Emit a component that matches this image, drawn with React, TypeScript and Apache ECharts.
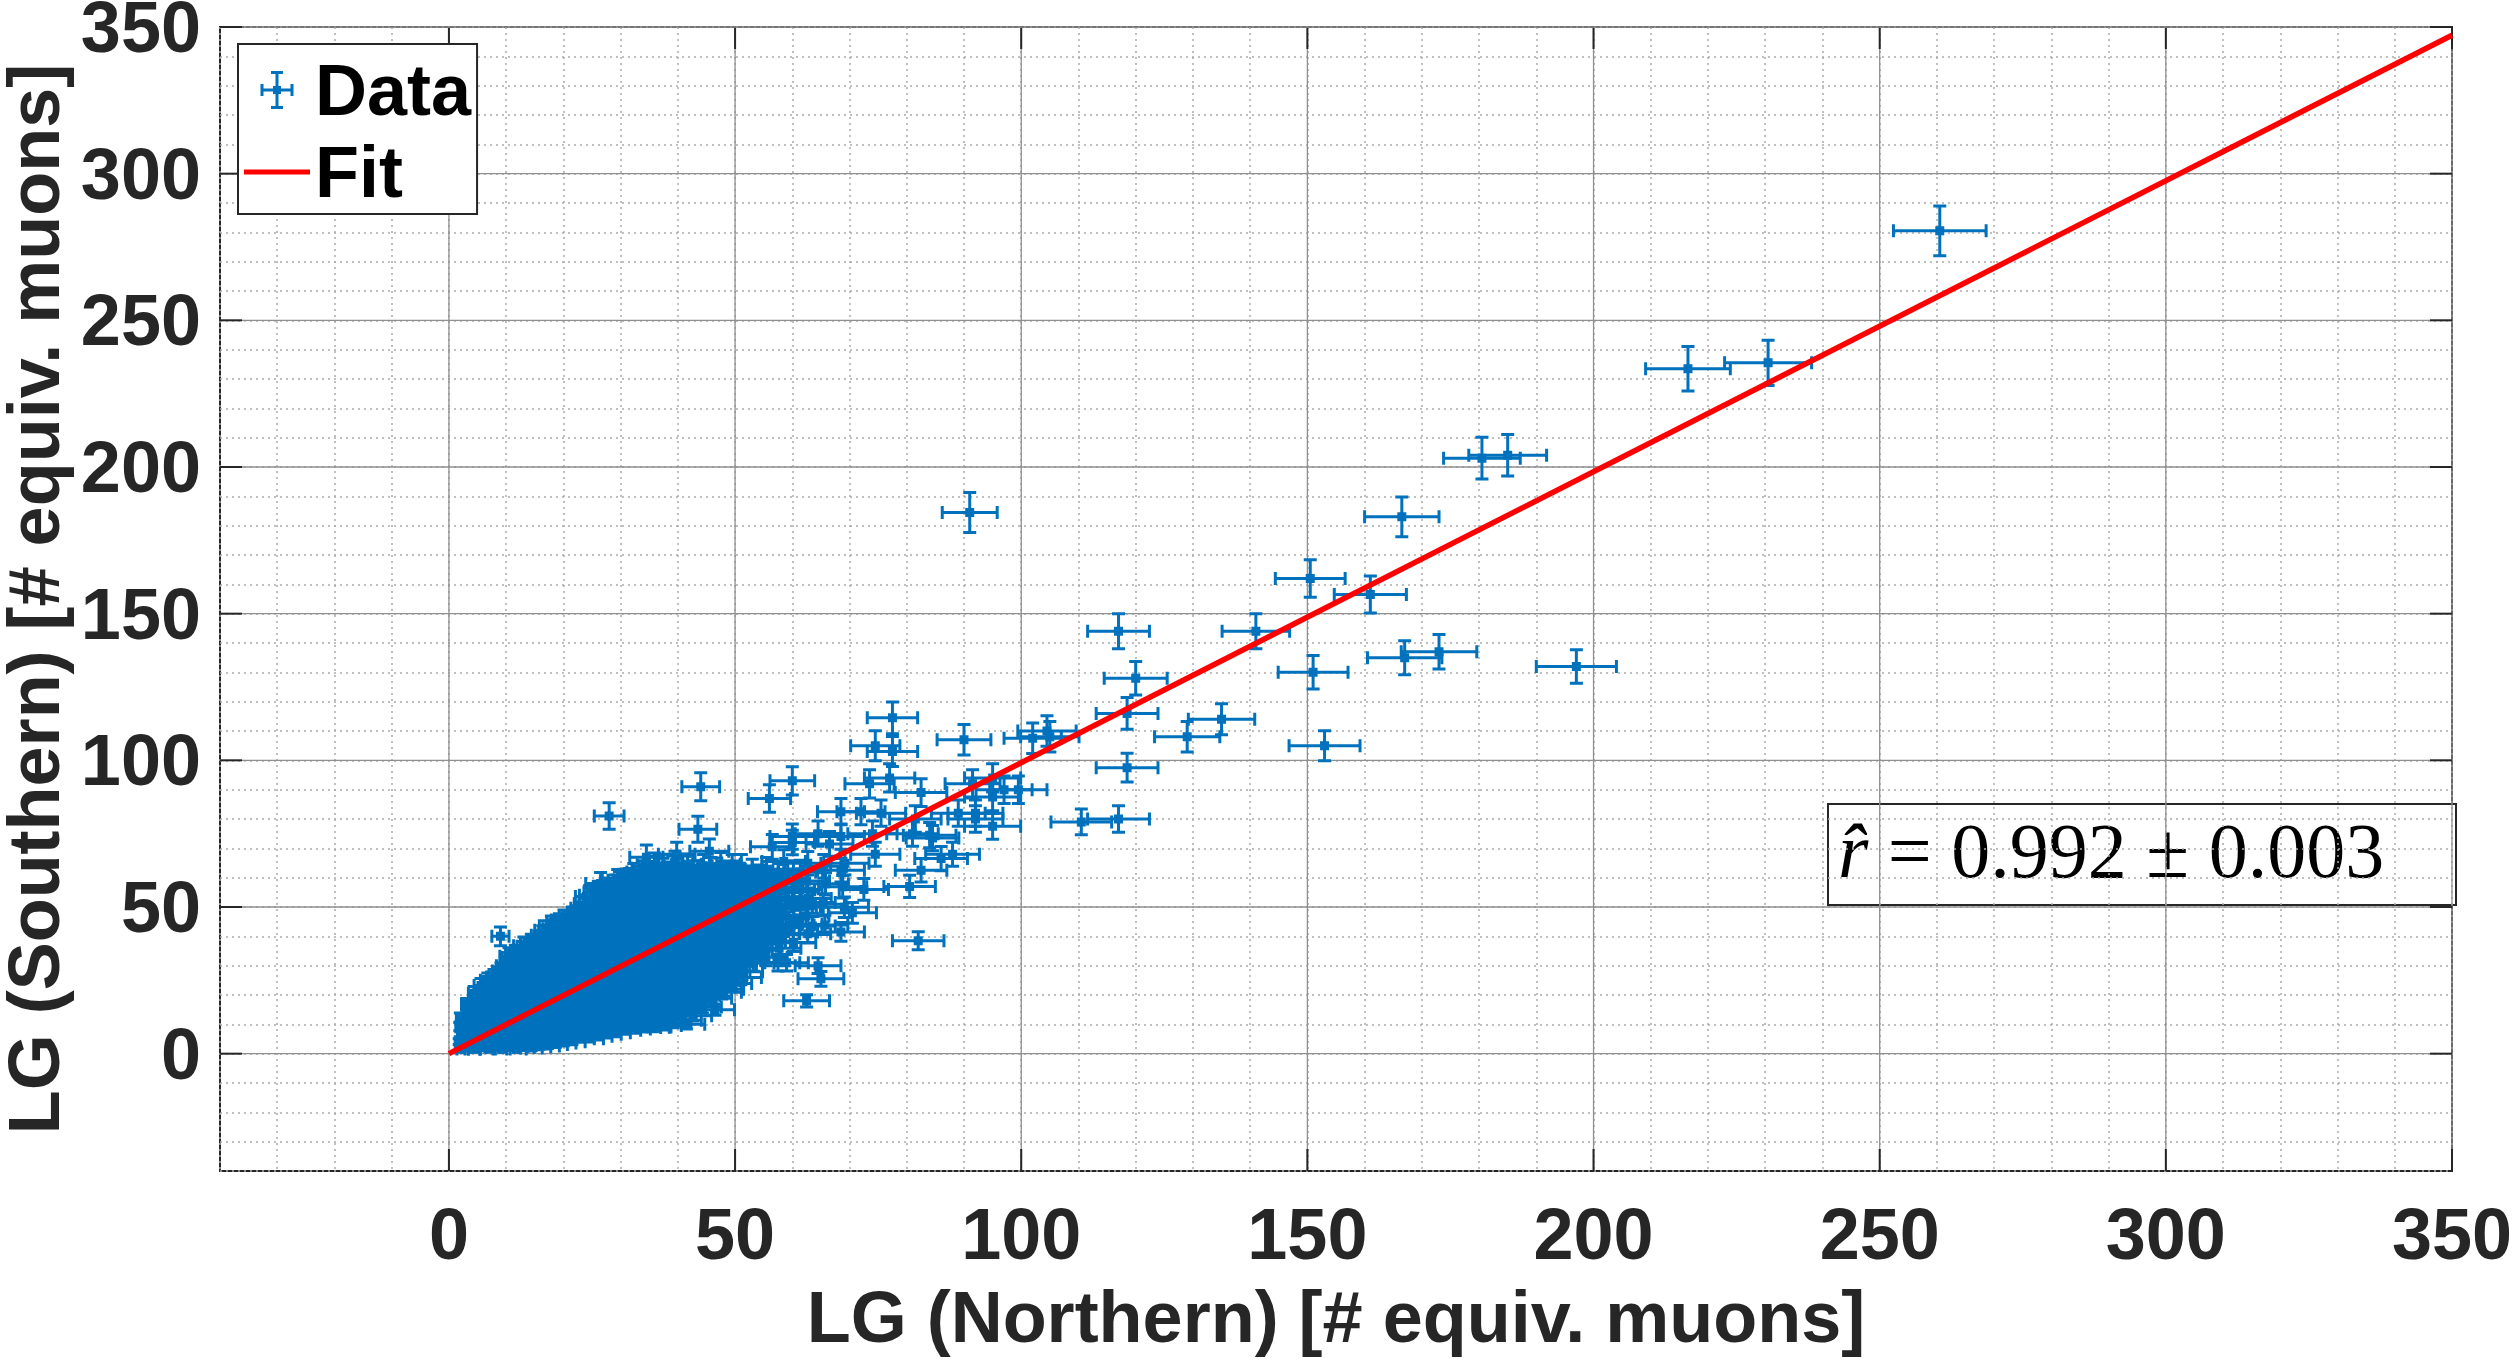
import { useEffect, useRef } from "react";
import * as echarts from "echarts";

// ---------- axes ----------
const X_MIN = -40;
const X_MAX = 350;
const Y_MIN = -40;
const Y_MAX = 350;
const minorStep = 10;
const xMajorTicks = [0, 50, 100, 150, 200, 250, 300, 350];
const yMajorTicks = [0, 50, 100, 150, 200, 250, 300, 350];
const xAxisTitle = "LG (Northern) [# equiv. muons]";
const yAxisTitle = "LG (Southern) [# equiv. muons]";
const legendNames = ["Data", "Fit"];

// ---------- fit ----------
const fitRatio = 0.992;
const fitRatioErr = 0.003;
const fitLinePoints = [
  [0, 0],
  [350, 347.2],
];

// ---------- data: [northern, southern, northernErr, southernErr] ----------
const outlierPoints = [
  [260.5, 280.5, 8.1, 8.5], [216.5, 233.5, 7.4, 7.6], [230.5, 235.5, 7.6, 7.7],
  [180.5, 203, 6.7, 7.1], [185, 204, 6.8, 7.1], [166.5, 183, 6.5, 6.8],
  [91, 184.5, 4.8, 6.8], [150.5, 162, 6.1, 6.4], [161, 156.5, 6.3, 6.3],
  [141, 144, 5.9, 6.0], [117, 144, 5.4, 6.0], [151, 130, 6.1, 5.7],
  [167, 135, 6.5, 5.8], [173, 137, 6.6, 5.9], [197, 132, 7.0, 5.7],
  [120, 128, 5.5, 5.7], [153, 105, 6.2, 5.1], [135, 114, 5.8, 5.3],
  [129, 108, 5.7, 5.2], [118.5, 116, 5.4, 5.4], [118.5, 97.5, 5.4, 4.9],
  [117, 80, 5.4, 4.5], [110.5, 79, 5.3, 4.4], [102, 107.5, 5.0, 5.2],
  [104.5, 110, 5.1, 5.2], [105, 108, 5.1, 5.2], [90, 107, 4.7, 5.2],
  [77.5, 114.5, 4.4, 5.4], [74.5, 105, 4.3, 5.1], [77.5, 103, 4.4, 5.1],
  [60, 93, 3.9, 4.8], [56, 87, 3.7, 4.7], [73.5, 92, 4.3, 4.8],
  [77, 94, 4.4, 4.8], [82.5, 89, 4.5, 4.7], [91.5, 92, 4.8, 4.8],
  [97, 90, 4.9, 4.7], [99.5, 90, 5.0, 4.7], [95, 87.5, 4.9, 4.7],
  [89, 82, 4.7, 4.5], [92, 82, 4.8, 4.5], [95, 77.5, 4.9, 4.4],
  [92, 80, 4.8, 4.5], [68.5, 82.5, 4.1, 4.5], [72, 82.5, 4.2, 4.5],
  [75.5, 82, 4.3, 4.5], [60, 74, 3.9, 4.3], [56.5, 70.5, 3.8, 4.2],
  [68.5, 74, 4.1, 4.3], [74, 75, 4.3, 4.3], [81, 75, 4.5, 4.3],
  [84, 74.5, 4.6, 4.3], [86, 66.5, 4.6, 4.1], [88, 68, 4.7, 4.1],
  [82.5, 62.5, 4.5, 4.0], [80.5, 57, 4.5, 3.8], [74.5, 68, 4.3, 4.1],
  [58.5, 65.5, 3.8, 4.0], [68.5, 62.5, 4.1, 4.0], [72.5, 56, 4.3, 3.7],
  [82, 38.5, 4.5, 3.1], [64.5, 30, 4.0, 2.7], [65, 25.5, 4.0, 2.5],
  [62.5, 18, 4.0, 2.1], [59, 31, 3.8, 2.8], [68.5, 41.5, 4.1, 3.2],
  [51, 26, 3.6, 2.5], [63.5, 51.5, 4.0, 3.6], [70.5, 48, 4.2, 3.5],
  [66.5, 71.5, 4.1, 4.2], [28, 81, 2.6, 4.5], [44, 91, 3.3, 4.8],
  [43.5, 76.5, 3.3, 4.4], [9, 40, 1.5, 3.2], [41.5, 10, 3.2, 1.6],
  [35.5, 9, 3.0, 1.5], [84.5, 73.5, 4.6, 4.3], [95, 94, 4.9, 4.8],
  [81.5, 80, 4.5, 4.5], [57.5, 41, 3.8, 3.2], [63.5, 43.5, 4.0, 3.3],
  [57.5, 31, 3.8, 2.8], [48, 22, 3.5, 2.3], [46.5, 15, 3.4, 1.9],
  [64.5, 75, 4.0, 4.3], [34.5, 67, 2.9, 4.1], [39.8, 68, 3.2, 4.1],
  [45.5, 69, 3.4, 4.2], [26.5, 58, 2.6, 3.8], [29.5, 59, 2.7, 3.8],
  [60, 72, 3.9, 4.2], [39.5, 65, 3.1, 4.0],
];

const clusterLow = [
  [2.1, 1.6, 0.7, 0.7], [1.8, 4.1, 0.7, 1.0], [2.2, 6.6, 0.7, 1.4], [1.9, 9.2, 0.7, 1.4], [2.0, 12.2, 0.7, 1.7],
  [3.2, 2.1, 0.9, 0.7], [2.9, 5.0, 0.9, 1.0], [3.3, 8.1, 0.9, 1.4], [3.0, 11.2, 0.9, 1.8], [3.4, 14.4, 0.9, 1.8], [3.1, 16.8, 0.9, 2.0],
  [4.4, 1.5, 1.0, 0.7], [4.1, 4.6, 1.0, 1.0], [4.5, 7.2, 1.0, 1.4], [4.2, 10.1, 1.0, 1.6], [4.6, 13.2, 1.0, 1.8], [4.3, 16.1, 1.0, 2.0], [4.5, 18.6, 1.0, 2.1], [4.4, 20.6, 1.0, 2.3],
  [5.6, 2.6, 1.2, 0.8], [5.3, 5.4, 1.2, 1.2], [5.7, 8.6, 1.2, 1.5], [5.4, 11.6, 1.2, 1.7], [5.8, 14.3, 1.2, 1.9], [5.5, 17.6, 1.2, 2.1], [5.7, 20.4, 1.2, 2.3], [5.6, 23.2, 1.2, 2.4],
  [6.8, 1.6, 1.3, 0.6], [6.5, 4.2, 1.3, 1.0], [6.9, 7.1, 1.3, 1.3], [6.6, 10.2, 1.3, 1.6], [7.0, 13.1, 1.3, 1.8], [6.7, 16.2, 1.3, 2.0], [6.9, 19.1, 1.3, 2.2], [6.6, 22.2, 1.3, 2.4], [6.8, 25.0, 1.3, 2.5],
  [8.0, 2.1, 1.4, 0.7], [7.7, 5.2, 1.4, 1.1], [8.1, 8.4, 1.4, 1.4], [7.8, 11.6, 1.4, 1.7], [8.2, 14.6, 1.4, 1.9], [7.9, 17.4, 1.4, 2.1], [8.1, 20.6, 1.4, 2.3], [7.8, 23.4, 1.4, 2.4], [8.0, 26.1, 1.4, 2.6],
  [9.2, 1.6, 1.5, 0.6], [8.9, 4.6, 1.5, 1.1], [9.3, 7.6, 1.5, 1.4], [9.0, 10.4, 1.5, 1.6], [9.4, 13.6, 1.5, 1.8], [9.1, 16.4, 1.5, 2.0], [9.3, 19.6, 1.5, 2.2], [9.0, 22.4, 1.5, 2.4], [9.4, 25.6, 1.5, 2.5], [9.1, 28.2, 1.5, 2.7],
  [10.5, 2.1, 1.6, 0.7], [10.2, 5.1, 1.6, 1.1], [10.6, 8.1, 1.6, 1.4], [10.3, 11.1, 1.6, 1.7], [10.7, 14.1, 1.6, 1.9], [10.4, 17.1, 1.6, 2.1], [10.6, 20.1, 1.6, 2.2], [10.3, 23.1, 1.6, 2.4], [10.7, 26.1, 1.6, 2.6], [10.4, 29.1, 1.6, 2.7], [10.6, 31.6, 1.6, 2.8], [10.5, 33.2, 1.6, 2.9],
  [11.8, 1.6, 1.7, 0.6], [11.5, 4.6, 1.7, 1.1], [11.9, 7.6, 1.7, 1.4], [11.6, 10.6, 1.7, 1.6], [12.0, 13.6, 1.7, 1.8], [11.7, 16.6, 1.7, 2.0], [11.9, 19.6, 1.7, 2.2], [11.6, 22.6, 1.7, 2.4], [12.0, 25.6, 1.7, 2.5], [11.7, 28.6, 1.7, 2.7], [11.9, 31.4, 1.7, 2.8], [11.6, 34.1, 1.7, 2.9],
  [13.1, 2.1, 1.8, 0.7], [12.8, 5.4, 1.8, 1.2], [13.2, 8.6, 1.8, 1.5], [12.9, 11.6, 1.8, 1.7], [13.3, 14.6, 1.8, 1.9], [13.0, 17.6, 1.8, 2.1], [13.2, 20.6, 1.8, 2.3], [12.9, 23.6, 1.8, 2.4], [13.3, 26.6, 1.8, 2.6], [13.0, 29.6, 1.8, 2.7], [13.2, 32.6, 1.8, 2.9], [12.9, 35.2, 1.8, 3.0], [13.1, 36.8, 1.8, 3.0],
  [14.4, 1.9, 1.9, 0.7], [14.1, 5.1, 1.9, 1.1], [14.5, 8.1, 1.9, 1.4], [14.2, 11.1, 1.9, 1.7], [14.6, 14.1, 1.9, 1.9], [14.3, 17.1, 1.9, 2.1], [14.5, 20.1, 1.9, 2.2], [14.2, 23.1, 1.9, 2.4], [14.6, 26.1, 1.9, 2.6], [14.3, 29.1, 1.9, 2.7], [14.5, 32.1, 1.9, 2.8], [14.2, 35.1, 1.9, 3.0], [14.4, 37.6, 1.9, 3.1],
  [15.8, 2.4, 2.0, 0.8], [15.5, 5.6, 2.0, 1.2], [15.9, 8.6, 2.0, 1.5], [15.6, 11.6, 2.0, 1.7], [16.0, 14.6, 2.0, 1.9], [15.7, 17.6, 2.0, 2.1], [15.9, 20.6, 2.0, 2.3], [15.6, 23.6, 2.0, 2.4], [16.0, 26.6, 2.0, 2.6], [15.7, 29.6, 2.0, 2.7], [15.9, 32.6, 2.0, 2.9], [15.6, 35.6, 2.0, 3.0], [15.8, 38.6, 2.0, 3.1],
  [17.2, 2.6, 2.1, 0.8], [16.9, 6.1, 2.1, 1.2], [17.3, 9.1, 2.1, 1.5], [17.0, 12.1, 2.1, 1.7], [17.4, 15.1, 2.1, 1.9], [17.1, 18.1, 2.1, 2.1], [17.3, 21.1, 2.1, 2.3], [17.0, 24.1, 2.1, 2.5], [17.4, 27.1, 2.1, 2.6], [17.1, 30.1, 2.1, 2.7], [17.3, 33.1, 2.1, 2.9], [17.0, 36.1, 2.1, 3.0], [17.4, 39.1, 2.1, 3.1], [17.1, 42.1, 2.1, 3.2],
  [18.6, 3.1, 2.1, 0.9], [18.3, 6.6, 2.1, 1.3], [18.7, 9.6, 2.1, 1.5], [18.4, 12.6, 2.1, 1.8], [18.8, 15.6, 2.1, 2.0], [18.5, 18.6, 2.1, 2.2], [18.7, 21.6, 2.1, 2.3], [18.4, 24.6, 2.1, 2.5], [18.8, 27.6, 2.1, 2.6], [18.5, 30.6, 2.1, 2.8], [18.7, 33.6, 2.1, 2.9], [18.4, 36.6, 2.1, 3.0], [18.8, 39.6, 2.1, 3.1], [18.5, 42.6, 2.1, 3.3],
];

const clusterMid = [
  [20.0, 3.6, 2.2, 0.9], [19.7, 7.1, 2.2, 1.3], [20.1, 10.1, 2.2, 1.6], [19.8, 13.1, 2.2, 1.8], [20.2, 16.1, 2.2, 2.0], [19.9, 19.1, 2.2, 2.2], [20.1, 22.1, 2.2, 2.3], [19.8, 25.1, 2.2, 2.5], [20.2, 28.1, 2.2, 2.6], [19.9, 31.1, 2.2, 2.8], [20.1, 34.1, 2.2, 2.9], [19.8, 37.1, 2.2, 3.0], [20.2, 40.1, 2.2, 3.2], [19.9, 43.1, 2.2, 3.3], [20.1, 45.6, 2.2, 3.4],
  [21.5, 4.1, 2.3, 1.0], [21.2, 7.6, 2.3, 1.4], [21.6, 11.1, 2.3, 1.7], [21.3, 14.1, 2.3, 1.9], [21.7, 17.1, 2.3, 2.1], [21.4, 20.1, 2.3, 2.2], [21.6, 23.1, 2.3, 2.4], [21.3, 26.1, 2.3, 2.6], [21.7, 29.1, 2.3, 2.7], [21.4, 32.1, 2.3, 2.8], [21.6, 35.1, 2.3, 3.0], [21.3, 38.1, 2.3, 3.1], [21.7, 41.1, 2.3, 3.2], [21.4, 44.1, 2.3, 3.3], [21.6, 46.6, 2.3, 3.4],
  [23.0, 5.1, 2.4, 1.1], [22.7, 8.6, 2.4, 1.5], [23.1, 12.1, 2.4, 1.7], [22.8, 15.6, 2.4, 2.0], [23.2, 18.6, 2.4, 2.2], [22.9, 21.6, 2.4, 2.3], [23.1, 24.6, 2.4, 2.5], [22.8, 27.6, 2.4, 2.6], [23.2, 30.6, 2.4, 2.8], [22.9, 33.6, 2.4, 2.9], [23.1, 36.6, 2.4, 3.0], [22.8, 39.6, 2.4, 3.1], [23.2, 42.6, 2.4, 3.3], [22.9, 45.6, 2.4, 3.4], [23.1, 48.1, 2.4, 3.5],
  [24.5, 5.1, 2.5, 1.1], [24.2, 9.6, 2.5, 1.5], [24.6, 13.1, 2.5, 1.8], [24.3, 16.6, 2.5, 2.0], [24.7, 20.1, 2.5, 2.2], [24.4, 23.6, 2.5, 2.4], [24.6, 27.1, 2.5, 2.6], [24.3, 30.6, 2.5, 2.8], [24.7, 34.1, 2.5, 2.9], [24.4, 37.6, 2.5, 3.1], [24.6, 41.1, 2.5, 3.2], [24.3, 44.6, 2.5, 3.3], [24.7, 48.1, 2.5, 3.5], [24.4, 51.1, 2.5, 3.6], [24.6, 53.6, 2.5, 3.7],
  [26.0, 5.9, 2.5, 1.2], [25.7, 10.6, 2.5, 1.6], [26.1, 14.1, 2.5, 1.9], [25.8, 17.6, 2.5, 2.1], [26.2, 21.1, 2.5, 2.3], [25.9, 24.6, 2.5, 2.5], [26.1, 28.1, 2.5, 2.6], [25.8, 31.6, 2.5, 2.8], [26.2, 35.1, 2.5, 3.0], [25.9, 38.6, 2.5, 3.1], [26.1, 42.1, 2.5, 3.2], [25.8, 45.6, 2.5, 3.4], [26.2, 49.1, 2.5, 3.5], [25.9, 52.6, 2.5, 3.6], [26.1, 55.1, 2.5, 3.7],
  [27.5, 6.6, 2.6, 1.3], [27.2, 11.1, 2.6, 1.7], [27.6, 14.6, 2.6, 1.9], [27.3, 18.1, 2.6, 2.1], [27.7, 21.6, 2.6, 2.3], [27.4, 25.1, 2.6, 2.5], [27.6, 28.6, 2.6, 2.7], [27.3, 32.1, 2.6, 2.8], [27.7, 35.6, 2.6, 3.0], [27.4, 39.1, 2.6, 3.1], [27.6, 42.6, 2.6, 3.3], [27.3, 46.1, 2.6, 3.4], [27.7, 49.6, 2.6, 3.5], [27.4, 53.1, 2.6, 3.6], [27.6, 56.1, 2.6, 3.7],
  [29.0, 7.1, 2.7, 1.3], [28.7, 11.6, 2.7, 1.7], [29.1, 15.1, 2.7, 1.9], [28.8, 18.6, 2.7, 2.2], [29.2, 22.1, 2.7, 2.4], [28.9, 25.6, 2.7, 2.5], [29.1, 29.1, 2.7, 2.7], [28.8, 32.6, 2.7, 2.9], [29.2, 36.1, 2.7, 3.0], [28.9, 39.6, 2.7, 3.1], [29.1, 43.1, 2.7, 3.3], [28.8, 46.6, 2.7, 3.4], [29.2, 50.1, 2.7, 3.5], [28.9, 53.6, 2.7, 3.7], [29.1, 57.1, 2.7, 3.8],
  [30.7, 8.0, 2.8, 1.4], [30.4, 12.9, 2.8, 1.8], [30.8, 16.9, 2.8, 2.1], [30.5, 20.9, 2.8, 2.3], [30.9, 24.9, 2.8, 2.5], [30.6, 28.9, 2.8, 2.7], [30.8, 32.9, 2.8, 2.9], [30.5, 36.9, 2.8, 3.0], [30.9, 40.9, 2.8, 3.2], [30.6, 44.9, 2.8, 3.4], [30.8, 48.9, 2.8, 3.5], [30.5, 52.9, 2.8, 3.6], [30.9, 56.4, 2.8, 3.8], [30.6, 59.1, 2.8, 3.8],
  [32.4, 8.4, 2.8, 1.4], [32.1, 13.4, 2.8, 1.8], [32.5, 17.4, 2.8, 2.1], [32.2, 21.4, 2.8, 2.3], [32.6, 25.4, 2.8, 2.5], [32.3, 29.4, 2.8, 2.7], [32.5, 33.4, 2.8, 2.9], [32.2, 37.4, 2.8, 3.1], [32.6, 41.4, 2.8, 3.2], [32.3, 45.4, 2.8, 3.4], [32.5, 49.4, 2.8, 3.5], [32.2, 53.4, 2.8, 3.7], [32.6, 57.4, 2.8, 3.8], [32.3, 60.9, 2.8, 3.9],
  [34.1, 8.9, 2.9, 1.5], [33.8, 13.9, 2.9, 1.9], [34.2, 17.9, 2.9, 2.1], [33.9, 21.9, 2.9, 2.3], [34.3, 25.9, 2.9, 2.5], [34.0, 29.9, 2.9, 2.7], [34.2, 33.9, 2.9, 2.9], [33.9, 37.9, 2.9, 3.1], [34.3, 41.9, 2.9, 3.2], [34.0, 45.9, 2.9, 3.4], [34.2, 49.9, 2.9, 3.5], [33.9, 53.9, 2.9, 3.7], [34.3, 57.9, 2.9, 3.8], [34.0, 61.9, 2.9, 3.9],
  [35.8, 9.1, 3.0, 1.5], [35.5, 14.1, 3.0, 1.9], [35.9, 18.1, 3.0, 2.1], [35.6, 22.1, 3.0, 2.4], [36.0, 26.1, 3.0, 2.6], [35.7, 30.1, 3.0, 2.7], [35.9, 34.1, 3.0, 2.9], [35.6, 38.1, 3.0, 3.1], [36.0, 42.1, 3.0, 3.2], [35.7, 46.1, 3.0, 3.4], [35.9, 50.1, 3.0, 3.5], [35.6, 54.1, 3.0, 3.7], [36.0, 58.1, 3.0, 3.8], [35.7, 61.6, 3.0, 3.9], [35.9, 64.4, 3.0, 4.0],
  [37.5, 9.6, 3.1, 1.5], [37.2, 14.6, 3.1, 1.9], [37.6, 18.6, 3.1, 2.2], [37.3, 22.6, 3.1, 2.4], [37.7, 26.6, 3.1, 2.6], [37.4, 30.6, 3.1, 2.8], [37.6, 34.6, 3.1, 2.9], [37.3, 38.6, 3.1, 3.1], [37.7, 42.6, 3.1, 3.3], [37.4, 46.6, 3.1, 3.4], [37.6, 50.6, 3.1, 3.6], [37.3, 54.6, 3.1, 3.7], [37.7, 58.6, 3.1, 3.8], [37.4, 62.6, 3.1, 4.0],
  [39.2, 10.4, 3.1, 1.6], [38.9, 15.4, 3.1, 2.0], [39.3, 19.4, 3.1, 2.2], [39.0, 23.4, 3.1, 2.4], [39.4, 27.4, 3.1, 2.6], [39.1, 31.4, 3.1, 2.8], [39.3, 35.4, 3.1, 3.0], [39.0, 39.4, 3.1, 3.1], [39.4, 43.4, 3.1, 3.3], [39.1, 47.4, 3.1, 3.4], [39.3, 51.4, 3.1, 3.6], [39.0, 55.4, 3.1, 3.7], [39.4, 59.4, 3.1, 3.9], [39.1, 63.4, 3.1, 4.0],
];

const clusterHigh = [
  [40.9, 11.4, 3.2, 1.7], [40.6, 16.4, 3.2, 2.0], [41.0, 20.4, 3.2, 2.3], [40.7, 24.4, 3.2, 2.5], [41.1, 28.4, 3.2, 2.7], [40.8, 32.4, 3.2, 2.8], [41.0, 36.4, 3.2, 3.0], [40.7, 40.4, 3.2, 3.2], [41.1, 44.4, 3.2, 3.3], [40.8, 48.4, 3.2, 3.5], [41.0, 52.4, 3.2, 3.6], [40.7, 56.4, 3.2, 3.8], [41.1, 60.4, 3.2, 3.9], [40.8, 64.1, 3.2, 4.0],
  [42.6, 12.9, 3.3, 1.8], [42.3, 17.9, 3.3, 2.1], [42.7, 21.9, 3.3, 2.3], [42.4, 25.9, 3.3, 2.5], [42.8, 29.9, 3.3, 2.7], [42.5, 33.9, 3.3, 2.9], [42.7, 37.9, 3.3, 3.1], [42.4, 41.9, 3.3, 3.2], [42.8, 45.9, 3.3, 3.4], [42.5, 49.9, 3.3, 3.5], [42.7, 53.9, 3.3, 3.7], [42.4, 57.9, 3.3, 3.8], [42.8, 61.9, 3.3, 3.9],
  [44.3, 15.9, 3.3, 2.0], [44.0, 19.9, 3.3, 2.2], [44.4, 23.9, 3.3, 2.4], [44.1, 27.9, 3.3, 2.6], [44.5, 31.9, 3.3, 2.8], [44.2, 35.9, 3.3, 3.0], [44.4, 39.9, 3.3, 3.2], [44.1, 43.9, 3.3, 3.3], [44.5, 47.9, 3.3, 3.5], [44.2, 51.9, 3.3, 3.6], [44.4, 55.9, 3.3, 3.7], [44.1, 59.9, 3.3, 3.9], [44.5, 63.9, 3.3, 4.0],
  [46.0, 18.9, 3.4, 2.2], [45.7, 22.9, 3.4, 2.4], [46.1, 26.9, 3.4, 2.6], [45.8, 30.9, 3.4, 2.8], [46.2, 34.9, 3.4, 3.0], [45.9, 38.9, 3.4, 3.1], [46.1, 42.9, 3.4, 3.3], [45.8, 46.9, 3.4, 3.4], [46.2, 50.9, 3.4, 3.6], [45.9, 54.9, 3.4, 3.7], [46.1, 58.9, 3.4, 3.8], [45.8, 62.9, 3.4, 4.0],
  [47.7, 20.9, 3.4, 2.3], [47.4, 24.9, 3.4, 2.5], [47.8, 28.9, 3.4, 2.7], [47.5, 32.9, 3.4, 2.9], [47.9, 36.9, 3.4, 3.0], [47.6, 40.9, 3.4, 3.2], [47.8, 44.9, 3.4, 3.4], [47.5, 48.9, 3.4, 3.5], [47.9, 52.9, 3.4, 3.6], [47.6, 56.9, 3.4, 3.8], [47.8, 60.9, 3.4, 3.9], [47.5, 64.6, 3.4, 4.0],
  [49.4, 23.9, 3.5, 2.4], [49.1, 27.9, 3.5, 2.6], [49.5, 31.9, 3.5, 2.8], [49.2, 35.9, 3.5, 3.0], [49.6, 39.9, 3.5, 3.2], [49.3, 43.9, 3.5, 3.3], [49.5, 47.9, 3.5, 3.5], [49.2, 51.9, 3.5, 3.6], [49.6, 55.9, 3.5, 3.7], [49.3, 59.9, 3.5, 3.9], [49.5, 63.9, 3.5, 4.0],
  [51.2, 27.9, 3.6, 2.6], [50.9, 31.9, 3.6, 2.8], [51.3, 35.9, 3.6, 3.0], [51.0, 39.9, 3.6, 3.2], [51.4, 43.9, 3.6, 3.3], [51.1, 47.9, 3.6, 3.5], [51.3, 51.9, 3.6, 3.6], [51.0, 55.9, 3.6, 3.7], [51.4, 59.9, 3.6, 3.9], [51.1, 63.9, 3.6, 4.0],
  [53.2, 30.9, 3.6, 2.8], [52.9, 35.4, 3.6, 3.0], [53.3, 39.9, 3.6, 3.2], [53.0, 44.4, 3.6, 3.3], [53.4, 48.9, 3.6, 3.5], [53.1, 53.4, 3.6, 3.7], [53.3, 57.9, 3.6, 3.8], [53.0, 62.4, 3.6, 3.9],
  [55.4, 32.9, 3.7, 2.9], [55.1, 37.9, 3.7, 3.1], [55.5, 42.9, 3.7, 3.3], [55.2, 47.9, 3.7, 3.5], [55.6, 52.9, 3.7, 3.6], [55.3, 57.9, 3.7, 3.8], [55.5, 62.9, 3.7, 4.0],
  [57.7, 35.9, 3.8, 3.0], [57.4, 40.9, 3.8, 3.2], [57.8, 45.9, 3.8, 3.4], [57.5, 50.9, 3.8, 3.6], [57.9, 55.9, 3.8, 3.7], [57.6, 60.9, 3.8, 3.9],
  [60.2, 37.9, 3.9, 3.1], [59.9, 43.9, 3.9, 3.3], [60.3, 49.9, 3.9, 3.5], [60.0, 55.9, 3.9, 3.7], [60.2, 61.9, 3.9, 3.9],
  [62.7, 40.9, 4.0, 3.2], [62.4, 46.9, 4.0, 3.4], [62.8, 52.9, 4.0, 3.6], [62.5, 58.9, 4.0, 3.8], [62.7, 64.9, 4.0, 4.0],
  [65.7, 43.9, 4.0, 3.3], [65.4, 50.9, 4.0, 3.6], [65.8, 57.9, 4.0, 3.8], [65.5, 63.9, 4.0, 4.0],
  [69.1, 49.9, 4.2, 3.5], [68.8, 56.9, 4.2, 3.8], [69.2, 64.9, 4.2, 4.0],
];

// points lying between the rows above, in the densest part of the cloud
const clusterFill = [
  [2.6, 3.0, 0.8, 1.0], [2.5, 5.8, 0.8, 1.2], [2.6, 8.4, 0.8, 1.4], [2.5, 11.0, 0.8, 1.6],
  [3.7, 3.4, 1.0, 1.0], [3.8, 6.4, 1.0, 1.2], [3.7, 9.4, 1.0, 1.6], [3.8, 12.4, 1.0, 1.7], [3.7, 15.6, 1.0, 2.0],
  [4.9, 3.2, 1.1, 1.0], [5.0, 6.2, 1.1, 1.2], [4.9, 9.0, 1.1, 1.6], [5.0, 12.0, 1.1, 1.7], [4.9, 15.0, 1.1, 2.0], [5.0, 18.2, 1.1, 2.1],
  [6.1, 3.0, 1.2, 1.0], [6.2, 6.0, 1.2, 1.2], [6.1, 9.2, 1.2, 1.6], [6.2, 12.2, 1.2, 1.7], [6.1, 15.2, 1.2, 2.0], [6.2, 18.4, 1.2, 2.1], [6.1, 21.4, 1.2, 2.3],
  [7.3, 3.4, 1.4, 1.0], [7.4, 6.6, 1.4, 1.2], [7.3, 9.6, 1.4, 1.6], [7.4, 12.6, 1.4, 1.7], [7.3, 15.8, 1.4, 2.0], [7.4, 18.8, 1.4, 2.1], [7.3, 21.8, 1.4, 2.3], [7.4, 24.6, 1.4, 2.4],
  [8.5, 3.2, 1.5, 1.0], [8.6, 6.2, 1.5, 1.2], [8.5, 9.2, 1.5, 1.6], [8.6, 12.2, 1.5, 1.7], [8.5, 15.2, 1.5, 2.0], [8.6, 18.2, 1.5, 2.1], [8.5, 21.2, 1.5, 2.3], [8.6, 24.2, 1.5, 2.4], [8.5, 27.0, 1.5, 2.6],
  [9.8, 3.4, 1.6, 1.0], [9.9, 6.6, 1.6, 1.2], [9.8, 9.6, 1.6, 1.6], [9.9, 12.6, 1.6, 1.7], [9.8, 15.6, 1.6, 2.0], [9.9, 18.6, 1.6, 2.1], [9.8, 21.6, 1.6, 2.3], [9.9, 24.6, 1.6, 2.4], [9.8, 27.6, 1.6, 2.6], [9.9, 30.0, 1.6, 2.7],
  [11.0, 3.2, 1.7, 1.0], [11.1, 6.2, 1.7, 1.2], [11.0, 9.2, 1.7, 1.6], [11.1, 12.2, 1.7, 1.7], [11.0, 15.2, 1.7, 2.0], [11.1, 18.2, 1.7, 2.1], [11.0, 21.2, 1.7, 2.3], [11.1, 24.2, 1.7, 2.4], [11.0, 27.2, 1.7, 2.6], [11.1, 30.2, 1.7, 2.7], [11.0, 32.8, 1.7, 2.8],
  [12.3, 3.6, 1.8, 1.0], [12.4, 6.8, 1.8, 1.2], [12.3, 10.0, 1.8, 1.6], [12.4, 13.0, 1.8, 1.8], [12.3, 16.0, 1.8, 2.0], [12.4, 19.0, 1.8, 2.2], [12.3, 22.0, 1.8, 2.3], [12.4, 25.0, 1.8, 2.5], [12.3, 28.0, 1.8, 2.6], [12.4, 31.0, 1.8, 2.8], [12.3, 34.0, 1.8, 2.9],
  [13.6, 3.4, 1.8, 1.0], [13.7, 6.6, 1.8, 1.2], [13.6, 9.8, 1.8, 1.6], [13.7, 12.8, 1.8, 1.7], [13.6, 15.8, 1.8, 2.0], [13.7, 18.8, 1.8, 2.1], [13.6, 21.8, 1.8, 2.3], [13.7, 24.8, 1.8, 2.4], [13.6, 27.8, 1.8, 2.6], [13.7, 30.8, 1.8, 2.7], [13.6, 33.8, 1.8, 2.9], [13.7, 36.6, 1.8, 3.0],
  [15.0, 3.8, 1.9, 1.0], [15.1, 7.0, 1.9, 1.4], [15.0, 10.0, 1.9, 1.6], [15.1, 13.0, 1.9, 1.8], [15.0, 16.0, 1.9, 2.0], [15.1, 19.0, 1.9, 2.2], [15.0, 22.0, 1.9, 2.3], [15.1, 25.0, 1.9, 2.5], [15.0, 28.0, 1.9, 2.6], [15.1, 31.0, 1.9, 2.8], [15.0, 34.0, 1.9, 2.9], [15.1, 37.0, 1.9, 3.1],
  [16.4, 4.2, 2.0, 1.0], [16.5, 7.4, 2.0, 1.4], [16.4, 10.4, 2.0, 1.6], [16.5, 13.4, 2.0, 1.8], [16.4, 16.4, 2.0, 2.0], [16.5, 19.4, 2.0, 2.2], [16.4, 22.4, 2.0, 2.3], [16.5, 25.4, 2.0, 2.5], [16.4, 28.4, 2.0, 2.6], [16.5, 31.4, 2.0, 2.8], [16.4, 34.4, 2.0, 2.9], [16.5, 37.4, 2.0, 3.1], [16.4, 40.4, 2.0, 3.2],
  [17.8, 4.6, 2.1, 1.0], [17.9, 8.0, 2.1, 1.4], [17.8, 11.0, 2.1, 1.7], [17.9, 14.0, 2.1, 1.8], [17.8, 17.0, 2.1, 2.1], [17.9, 20.0, 2.1, 2.2], [17.8, 23.0, 2.1, 2.4], [17.9, 26.0, 2.1, 2.5], [17.8, 29.0, 2.1, 2.7], [17.9, 32.0, 2.1, 2.8], [17.8, 35.0, 2.1, 3.0], [17.9, 38.0, 2.1, 3.1], [17.8, 41.0, 2.1, 3.2], [17.9, 43.6, 2.1, 3.3],
  [19.2, 5.2, 2.2, 1.2], [19.3, 8.6, 2.2, 1.4], [19.2, 11.6, 2.2, 1.7], [19.3, 14.6, 2.2, 1.8], [19.2, 17.6, 2.2, 2.1], [19.3, 20.6, 2.2, 2.2], [19.2, 23.6, 2.2, 2.4], [19.3, 26.6, 2.2, 2.5], [19.2, 29.6, 2.2, 2.7], [19.3, 32.6, 2.2, 2.8], [19.2, 35.6, 2.2, 3.0], [19.3, 38.6, 2.2, 3.1], [19.2, 41.6, 2.2, 3.2], [19.3, 44.4, 2.2, 3.3],
  [20.7, 5.8, 2.3, 1.2], [20.8, 9.2, 2.3, 1.6], [20.7, 12.6, 2.3, 1.7], [20.8, 15.6, 2.3, 2.0], [20.7, 18.6, 2.3, 2.1], [20.8, 21.6, 2.3, 2.3], [20.7, 24.6, 2.3, 2.4], [20.8, 27.6, 2.3, 2.6], [20.7, 30.6, 2.3, 2.7], [20.8, 33.6, 2.3, 2.9], [20.7, 36.6, 2.3, 3.0], [20.8, 39.6, 2.3, 3.2], [20.7, 42.6, 2.3, 3.2], [20.8, 45.2, 2.3, 3.4],
  [22.2, 6.6, 2.4, 1.2], [22.3, 10.2, 2.4, 1.6], [22.2, 13.6, 2.4, 1.8], [22.3, 17.0, 2.4, 2.1], [22.2, 20.0, 2.4, 2.2], [22.3, 23.0, 2.4, 2.4], [22.2, 26.0, 2.4, 2.5], [22.3, 29.0, 2.4, 2.7], [22.2, 32.0, 2.4, 2.8], [22.3, 35.0, 2.4, 3.0], [22.2, 38.0, 2.4, 3.1], [22.3, 41.0, 2.4, 3.2], [22.2, 44.0, 2.4, 3.3], [22.3, 47.0, 2.4, 3.4],
  [23.7, 7.4, 2.4, 1.4], [23.8, 11.2, 2.4, 1.7], [23.7, 14.8, 2.4, 1.8], [23.8, 18.2, 2.4, 2.1], [23.7, 21.8, 2.4, 2.3], [23.8, 25.2, 2.4, 2.5], [23.7, 28.8, 2.4, 2.6], [23.8, 32.2, 2.4, 2.8], [23.7, 35.8, 2.4, 3.0], [23.8, 39.2, 2.4, 3.2], [23.7, 42.8, 2.4, 3.2], [23.8, 46.2, 2.4, 3.4], [23.7, 49.6, 2.4, 3.5],
  [25.2, 8.2, 2.5, 1.4], [25.3, 12.2, 2.5, 1.7], [25.2, 15.8, 2.5, 2.0], [25.3, 19.4, 2.5, 2.2], [25.2, 22.8, 2.5, 2.3], [25.3, 26.4, 2.5, 2.5], [25.2, 29.8, 2.5, 2.7], [25.3, 33.4, 2.5, 2.9], [25.2, 36.8, 2.5, 3.0], [25.3, 40.4, 2.5, 3.2], [25.2, 43.8, 2.5, 3.3], [25.3, 47.4, 2.5, 3.5], [25.2, 50.8, 2.5, 3.5], [25.3, 54.0, 2.5, 3.7],
  [26.7, 8.8, 2.6, 1.4], [26.8, 12.8, 2.6, 1.7], [26.7, 16.4, 2.6, 2.0], [26.8, 19.8, 2.6, 2.2], [26.7, 23.4, 2.6, 2.4], [26.8, 26.8, 2.6, 2.5], [26.7, 30.4, 2.6, 2.7], [26.8, 33.8, 2.6, 2.9], [26.7, 37.4, 2.6, 3.1], [26.8, 40.8, 2.6, 3.2], [26.7, 44.4, 2.6, 3.3], [26.8, 47.8, 2.6, 3.5], [26.7, 51.4, 2.6, 3.6], [26.8, 54.6, 2.6, 3.7],
  [28.2, 9.4, 2.7, 1.6], [28.3, 13.4, 2.7, 1.8], [28.2, 16.8, 2.7, 2.0], [28.3, 20.4, 2.7, 2.2], [28.2, 23.8, 2.7, 2.4], [28.3, 27.4, 2.7, 2.6], [28.2, 30.8, 2.7, 2.7], [28.3, 34.4, 2.7, 2.9], [28.2, 37.8, 2.7, 3.1], [28.3, 41.4, 2.7, 3.2], [28.2, 44.8, 2.7, 3.3], [28.3, 48.4, 2.7, 3.5], [28.2, 51.8, 2.7, 3.6], [28.3, 55.4, 2.7, 3.7],
  [29.8, 10.2, 2.7, 1.6], [29.9, 14.8, 2.7, 1.8], [29.8, 18.8, 2.7, 2.1], [29.9, 22.8, 2.7, 2.3], [29.8, 26.8, 2.7, 2.5], [29.9, 30.8, 2.7, 2.7], [29.8, 34.8, 2.7, 2.9], [29.9, 38.8, 2.7, 3.1], [29.8, 42.8, 2.7, 3.2], [29.9, 46.8, 2.7, 3.4], [29.8, 50.8, 2.7, 3.5], [29.9, 54.8, 2.7, 3.7], [29.8, 58.2, 2.7, 3.8],
  [31.5, 10.8, 2.8, 1.6], [31.6, 15.4, 2.8, 2.0], [31.5, 19.4, 2.8, 2.2], [31.6, 23.4, 2.8, 2.4], [31.5, 27.4, 2.8, 2.6], [31.6, 31.4, 2.8, 2.8], [31.5, 35.4, 2.8, 3.0], [31.6, 39.4, 2.8, 3.2], [31.5, 43.4, 2.8, 3.3], [31.6, 47.4, 2.8, 3.5], [31.5, 51.4, 2.8, 3.6], [31.6, 55.4, 2.8, 3.7], [31.5, 59.2, 2.8, 3.9],
  [33.2, 11.4, 2.9, 1.7], [33.3, 15.8, 2.9, 2.0], [33.2, 19.8, 2.9, 2.2], [33.3, 23.8, 2.9, 2.4], [33.2, 27.8, 2.9, 2.6], [33.3, 31.8, 2.9, 2.8], [33.2, 35.8, 2.9, 3.0], [33.3, 39.8, 2.9, 3.2], [33.2, 43.8, 2.9, 3.3], [33.3, 47.8, 2.9, 3.5], [33.2, 51.8, 2.9, 3.6], [33.3, 55.8, 2.9, 3.7], [33.2, 59.8, 2.9, 3.9],
  [34.9, 11.8, 3.0, 1.7], [35.0, 16.0, 3.0, 2.0], [34.9, 20.0, 3.0, 2.2], [35.0, 24.0, 3.0, 2.4], [34.9, 28.0, 3.0, 2.6], [35.0, 32.0, 3.0, 2.8], [34.9, 36.0, 3.0, 3.0], [35.0, 40.0, 3.0, 3.2], [34.9, 44.0, 3.0, 3.3], [35.0, 48.0, 3.0, 3.5], [34.9, 52.0, 3.0, 3.6], [35.0, 56.0, 3.0, 3.7], [34.9, 60.0, 3.0, 3.9], [35.0, 63.2, 3.0, 4.0],
  [36.6, 12.2, 3.0, 1.7], [36.7, 16.6, 3.0, 2.0], [36.6, 20.6, 3.0, 2.3], [36.7, 24.6, 3.0, 2.5], [36.6, 28.6, 3.0, 2.7], [36.7, 32.6, 3.0, 2.9], [36.6, 36.6, 3.0, 3.0], [36.7, 40.6, 3.0, 3.2], [36.6, 44.6, 3.0, 3.3], [36.7, 48.6, 3.0, 3.5], [36.6, 52.6, 3.0, 3.6], [36.7, 56.6, 3.0, 3.8], [36.6, 60.6, 3.0, 3.9], [36.7, 63.6, 3.0, 4.0],
  [38.3, 13.0, 3.1, 1.8], [38.4, 17.4, 3.1, 2.1], [38.3, 21.4, 3.1, 2.3], [38.4, 25.4, 3.1, 2.5], [38.3, 29.4, 3.1, 2.7], [38.4, 33.4, 3.1, 2.9], [38.3, 37.4, 3.1, 3.1], [38.4, 41.4, 3.1, 3.2], [38.3, 45.4, 3.1, 3.4], [38.4, 49.4, 3.1, 3.5], [38.3, 53.4, 3.1, 3.7], [38.4, 57.4, 3.1, 3.8], [38.3, 61.4, 3.1, 3.9],
  [40.0, 14.0, 3.2, 1.9], [40.1, 18.4, 3.2, 2.1], [40.0, 22.4, 3.2, 2.3], [40.1, 26.4, 3.2, 2.5], [40.0, 30.4, 3.2, 2.7], [40.1, 34.4, 3.2, 2.9], [40.0, 38.4, 3.2, 3.1], [40.1, 42.4, 3.2, 3.2], [40.0, 46.4, 3.2, 3.4], [40.1, 50.4, 3.2, 3.5], [40.0, 54.4, 3.2, 3.7], [40.1, 58.4, 3.2, 3.8], [40.0, 62.4, 3.2, 3.9],
  [41.7, 15.4, 3.2, 2.0], [41.8, 19.8, 3.2, 2.2], [41.7, 23.8, 3.2, 2.4], [41.8, 27.8, 3.2, 2.6], [41.7, 31.8, 3.2, 2.8], [41.8, 35.8, 3.2, 3.0], [41.7, 39.8, 3.2, 3.2], [41.8, 43.8, 3.2, 3.3], [41.7, 47.8, 3.2, 3.5], [41.8, 51.8, 3.2, 3.6], [41.7, 55.8, 3.2, 3.7], [41.8, 59.8, 3.2, 3.9], [41.7, 63.4, 3.2, 4.0],
  [43.4, 17.6, 3.3, 2.1], [43.5, 21.8, 3.3, 2.3], [43.4, 25.8, 3.3, 2.5], [43.5, 29.8, 3.3, 2.7], [43.4, 33.8, 3.3, 2.9], [43.5, 37.8, 3.3, 3.1], [43.4, 41.8, 3.3, 3.2], [43.5, 45.8, 3.3, 3.4], [43.4, 49.8, 3.3, 3.5], [43.5, 53.8, 3.3, 3.7], [43.4, 57.8, 3.3, 3.8], [43.5, 61.8, 3.3, 3.9],
  [45.1, 20.6, 3.4, 2.2], [45.2, 24.8, 3.4, 2.4], [45.1, 28.8, 3.4, 2.6], [45.2, 32.8, 3.4, 2.8], [45.1, 36.8, 3.4, 3.0], [45.2, 40.8, 3.4, 3.2], [45.1, 44.8, 3.4, 3.3], [45.2, 48.8, 3.4, 3.5], [45.1, 52.8, 3.4, 3.6], [45.2, 56.8, 3.4, 3.7], [45.1, 60.8, 3.4, 3.9],
  [46.8, 22.8, 3.4, 2.3], [46.9, 26.8, 3.4, 2.5], [46.8, 30.8, 3.4, 2.7], [46.9, 34.8, 3.4, 2.9], [46.8, 38.8, 3.4, 3.1], [46.9, 42.8, 3.4, 3.2], [46.8, 46.8, 3.4, 3.4], [46.9, 50.8, 3.4, 3.5], [46.8, 54.8, 3.4, 3.7], [46.9, 58.8, 3.4, 3.8], [46.8, 62.8, 3.4, 3.9],
  [48.5, 25.8, 3.5, 2.5], [48.6, 29.8, 3.5, 2.7], [48.5, 33.8, 3.5, 2.9], [48.6, 37.8, 3.5, 3.1], [48.5, 41.8, 3.5, 3.2], [48.6, 45.8, 3.5, 3.4], [48.5, 49.8, 3.5, 3.5], [48.6, 53.8, 3.5, 3.7], [48.5, 57.8, 3.5, 3.8], [48.6, 61.8, 3.5, 3.9],
  [50.2, 29.8, 3.5, 2.7], [50.3, 33.8, 3.5, 2.9], [50.2, 37.8, 3.5, 3.1], [50.3, 41.8, 3.5, 3.2], [50.2, 45.8, 3.5, 3.4], [50.3, 49.8, 3.5, 3.5], [50.2, 53.8, 3.5, 3.7], [50.3, 57.8, 3.5, 3.8], [50.2, 61.8, 3.5, 3.9],
  [52.1, 33.2, 3.6, 2.9], [52.2, 37.6, 3.6, 3.1], [52.1, 42.0, 3.6, 3.2], [52.2, 46.6, 3.6, 3.4], [52.1, 51.0, 3.6, 3.6], [52.2, 55.6, 3.6, 3.7], [52.1, 60.0, 3.6, 3.9],
  [54.2, 35.4, 3.7, 3.0], [54.3, 40.4, 3.7, 3.2], [54.2, 45.4, 3.7, 3.4], [54.3, 50.4, 3.7, 3.5], [54.2, 55.4, 3.7, 3.7], [54.3, 60.4, 3.7, 3.9],
  [56.4, 38.4, 3.8, 3.1], [56.5, 43.4, 3.8, 3.3], [56.4, 48.4, 3.8, 3.5], [56.5, 53.4, 3.8, 3.7], [56.4, 58.4, 3.8, 3.8],
  [58.8, 41.0, 3.8, 3.2], [58.9, 47.0, 3.8, 3.4], [58.8, 53.0, 3.8, 3.6], [58.9, 59.0, 3.8, 3.8],
  [61.3, 44.0, 3.9, 3.3], [61.4, 50.0, 3.9, 3.5], [61.3, 56.0, 3.9, 3.7], [61.4, 62.0, 3.9, 3.9],
];

// ---------- styles ----------
const BLUE = "#0072BD";
const RED = "#FF0000";
const AXIS_COLOR = "#262626";
const MAJOR_GRID = "#8f8f8f";
const MINOR_GRID = "#ababab";
const SANS = "'Liberation Sans', Arial, Helvetica, sans-serif";
const SERIF = "'Liberation Serif', 'Times New Roman', serif";
const TICK_LEN = 22;
const CAP = 6.5;
const MARK = 3;

const DATA_ICON =
  "path://M0,17.5L33,17.5L33,20.5L0,20.5Z M15,0L18,0L18,38L15,38Z M0,13L3,13L3,25L0,25Z M30,13L33,13L33,25L30,25Z M10.5,0L22.5,0L22.5,3L10.5,3Z M10.5,35L22.5,35L22.5,38L10.5,38Z M12.5,15L20.5,15L20.5,23L12.5,23Z";
const FIT_ICON = "path://M0,0L63,0L63,5L0,5Z";

function renderErrorBar(params: any, api: any) {
  const x = api.value(0);
  const y = api.value(1);
  const ex = api.value(2);
  const ey = api.value(3);
  const c = api.coord([x, y]);
  const cx = c[0];
  const cy = c[1];
  const xl = api.coord([x - ex, y])[0];
  const xr = api.coord([x + ex, y])[0];
  const yt = api.coord([x, y + ey])[1];
  const yb = api.coord([x, y - ey])[1];
  const f = (n: number) => n.toFixed(2);
  const d =
    `M${f(xl)} ${f(cy)}L${f(xr)} ${f(cy)}` +
    `M${f(cx)} ${f(yt)}L${f(cx)} ${f(yb)}` +
    `M${f(xl)} ${f(cy - CAP)}L${f(xl)} ${f(cy + CAP)}` +
    `M${f(xr)} ${f(cy - CAP)}L${f(xr)} ${f(cy + CAP)}` +
    `M${f(cx - CAP)} ${f(yt)}L${f(cx + CAP)} ${f(yt)}` +
    `M${f(cx - CAP)} ${f(yb)}L${f(cx + CAP)} ${f(yb)}` +
    `M${f(cx - MARK)} ${f(cy - MARK)}L${f(cx + MARK)} ${f(cy - MARK)}L${f(cx + MARK)} ${f(cy + MARK)}L${f(cx - MARK)} ${f(cy + MARK)}Z`;
  return {
    type: "path",
    shape: { pathData: d },
    style: { stroke: BLUE, lineWidth: 3, fill: "none" },
  };
}

function renderMajorX(params: any, api: any) {
  const cs = params.coordSys;
  const px = api.coord([api.value(0), Y_MIN])[0];
  const top = cs.y;
  const bottom = cs.y + cs.height;
  return {
    type: "group",
    children: [
      { type: "line", shape: { x1: px, y1: top, x2: px, y2: bottom }, style: { stroke: MAJOR_GRID, lineWidth: 1.3 } },
      { type: "line", shape: { x1: px, y1: bottom, x2: px, y2: bottom - TICK_LEN }, style: { stroke: AXIS_COLOR, lineWidth: 2 } },
      { type: "line", shape: { x1: px, y1: top, x2: px, y2: top + TICK_LEN }, style: { stroke: AXIS_COLOR, lineWidth: 2 } },
    ],
  };
}

function renderMajorY(params: any, api: any) {
  const cs = params.coordSys;
  const py = api.coord([X_MIN, api.value(1)])[1];
  const left = cs.x;
  const right = cs.x + cs.width;
  return {
    type: "group",
    children: [
      { type: "line", shape: { x1: left, y1: py, x2: right, y2: py }, style: { stroke: MAJOR_GRID, lineWidth: 1.3 } },
      { type: "line", shape: { x1: left, y1: py, x2: left + TICK_LEN, y2: py }, style: { stroke: AXIS_COLOR, lineWidth: 2 } },
      { type: "line", shape: { x1: right, y1: py, x2: right - TICK_LEN, y2: py }, style: { stroke: AXIS_COLOR, lineWidth: 2 } },
    ],
  };
}

export default function App() {
  const ref = useRef<HTMLDivElement>(null);

  useEffect(() => {
    if (!ref.current) return;
    const chart = echarts.init(ref.current, null, { renderer: "svg" });
    const majorLabel = (ticks: number[]) => (v: number) =>
      ticks.indexOf(Math.round(v)) >= 0 && Math.abs(v - Math.round(v)) < 1e-6 ? String(Math.round(v)) : "";
    const allPoints = [...clusterLow, ...clusterFill, ...clusterMid, ...clusterHigh, ...outlierPoints];

    const option: any = {
      animation: false,
      backgroundColor: "#ffffff",
      grid: {
        left: 220,
        right: 64,
        top: 27,
        bottom: 188,
        show: true,
        borderColor: AXIS_COLOR,
        borderWidth: 2,
        backgroundColor: "#ffffff",
        containLabel: false,
        outerBoundsMode: "none",
      },
      xAxis: {
        type: "value",
        min: X_MIN,
        max: X_MAX,
        interval: minorStep,
        name: xAxisTitle,
        nameLocation: "middle",
        nameGap: 110,
        nameTextStyle: { fontSize: 72, fontWeight: "bold", color: AXIS_COLOR, fontFamily: SANS },
        axisLine: { show: false },
        axisTick: { show: false },
        axisLabel: {
          formatter: majorLabel(xMajorTicks),
          margin: 27,
          fontSize: 72,
          fontWeight: "bold",
          color: AXIS_COLOR,
          fontFamily: SANS,
        },
        splitLine: { show: true, lineStyle: { color: MINOR_GRID, width: 1.5, type: [2, 4] } },
      },
      yAxis: {
        type: "value",
        min: Y_MIN,
        max: Y_MAX,
        interval: minorStep,
        name: yAxisTitle,
        nameLocation: "middle",
        nameGap: 143,
        nameTextStyle: { fontSize: 72, fontWeight: "bold", color: AXIS_COLOR, fontFamily: SANS },
        axisLine: { show: false },
        axisTick: { show: false },
        axisLabel: {
          formatter: majorLabel(yMajorTicks),
          margin: 19,
          fontSize: 72,
          fontWeight: "bold",
          color: AXIS_COLOR,
          fontFamily: SANS,
        },
        splitLine: { show: true, lineStyle: { color: MINOR_GRID, width: 1.5, type: [2, 4] } },
      },
      legend: {
        left: 238,
        top: 44,
        orient: "vertical",
        data: [
          { name: legendNames[0], icon: DATA_ICON },
          { name: legendNames[1], icon: FIT_ICON },
        ],
        itemWidth: 66,
        itemHeight: 38,
        itemGap: 10,
        padding: [10, 6, 6, 6],
        borderColor: AXIS_COLOR,
        borderWidth: 2,
        borderRadius: 0,
        backgroundColor: "#ffffff",
        selectedMode: false,
        symbolKeepAspect: true,
        textStyle: { fontSize: 72, fontWeight: "bold", color: "#000000", fontFamily: SANS, lineHeight: 72 },
      },
      graphic: [
        {
          type: "group",
          left: 1827,
          top: 803,
          z: 100,
          children: [
            {
              type: "rect",
              shape: { x: 0, y: 0, width: 628, height: 101 },
              style: { fill: "#ffffff", stroke: AXIS_COLOR, lineWidth: 2 },
            },
            {
              type: "text",
              x: 10,
              y: 46,
              style: {
                text: `{i|r\u0302} = ${fitRatio.toFixed(3)} \u00b1 ${fitRatioErr.toFixed(3)}`,
                rich: { i: { fontStyle: "italic", fontFamily: SERIF, fontSize: 78, fill: "#000" } },
                fontFamily: SERIF,
                fontSize: 78,
                fill: "#000000",
                align: "left",
                verticalAlign: "middle",
              },
            },
          ],
        },
      ],
      series: [
        {
          type: "custom",
          name: "majorX",
          silent: true,
          z: 1,
          renderItem: renderMajorX,
          data: xMajorTicks.map((v) => [v, Y_MIN]),
        },
        {
          type: "custom",
          name: "majorY",
          silent: true,
          z: 1,
          renderItem: renderMajorY,
          data: yMajorTicks.map((v) => [X_MIN, v]),
        },
        {
          type: "custom",
          name: legendNames[0],
          silent: true,
          z: 2,
          itemStyle: { color: BLUE },
          renderItem: renderErrorBar,
          encode: { x: 0, y: 1 },
          data: allPoints,
        },
        {
          type: "line",
          name: legendNames[1],
          silent: true,
          z: 3,
          showSymbol: false,
          symbol: "none",
          itemStyle: { color: RED },
          lineStyle: { color: RED, width: 5.5 },
          data: fitLinePoints,
        },
      ],
    };

    chart.setOption(option);
    return () => chart.dispose();
  }, []);

  return (
    <div
      ref={ref}
      style={{ position: "fixed", left: 0, top: 0, width: "2516px", height: "1359px", background: "#fff" }}
    />
  );
}
